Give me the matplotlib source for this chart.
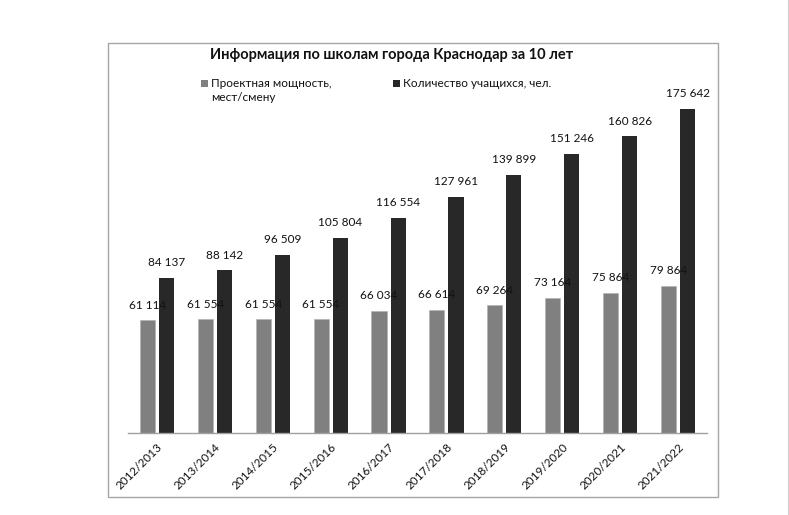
import matplotlib
matplotlib.use("Agg")
import matplotlib.pyplot as plt
from matplotlib.patches import Rectangle
from matplotlib.lines import Line2D
import numpy as np

plt.rcParams['font.family'] = ['Lato', 'DejaVu Sans']

title = "Информация по школам города Краснодар за 10 лет"
categories = ["2012/2013", "2013/2014", "2014/2015", "2015/2016", "2016/2017",
              "2017/2018", "2018/2019", "2019/2020", "2020/2021", "2021/2022"]
series_names = ["Проектная мощность,\nмест/смену", "Количество учащихся, чел."]
capacity = [61114, 61554, 61554, 61554, 66034, 66614, 69264, 73164, 75864, 79864]
students = [84137, 88142, 96509, 105804, 116554, 127961, 139899, 151246, 160826, 175642]
colors = ["#808080", "#282828"]

W, H = 789, 515
fig = plt.figure(figsize=(W / 100, H / 100), dpi=100)

# outer chart frame
fig.patches.append(Rectangle((108 / W, (H - 497) / H), 610 / W, 454 / H,
                             transform=fig.transFigure, fill=False,
                             edgecolor="#a6a6a6", linewidth=1.0))
# page edge line
fig.lines.append(Line2D([787.5 / W, 787.5 / W], [0, 1], transform=fig.transFigure,
                        color="#d0d0d0", linewidth=0.8))

ax = fig.add_axes([128 / W, (H - 433) / H, 579 / W, 373 / H])
x = np.arange(len(categories))
bw = 0.26
gap = 0.035
b1 = ax.bar(x - bw / 2 - gap, capacity, width=bw, color=colors[0],
            edgecolor="#b0b0b0", linewidth=0.4, zorder=2)
b2 = ax.bar(x + bw / 2 + gap, students, width=bw, color=colors[1], zorder=2)

ax.set_xlim(-0.5, len(categories) - 0.5)
ax.set_ylim(0, 175642 * 373 / 324)

def fmt(v):
    return f"{v:,}".replace(",", " ")

for rect, v in zip(b1, capacity):
    ax.annotate(fmt(v), (rect.get_x() + rect.get_width() / 2, v),
                xytext=(0, 7), textcoords="offset points", ha="center", va="bottom",
                fontsize=8.5, color="#111111", zorder=3)
for rect, v in zip(b2, students):
    ax.annotate(fmt(v), (rect.get_x() + rect.get_width() / 2, v),
                xytext=(0, 7), textcoords="offset points", ha="center", va="bottom",
                fontsize=8.5, color="#111111", zorder=3)

for s in ["top", "right", "left"]:
    ax.spines[s].set_visible(False)
ax.spines["bottom"].set_color("#a0a0a0")
ax.spines["bottom"].set_linewidth(1.0)
ax.set_yticks([])
ax.set_xticks(x)
ax.set_xticklabels(categories, rotation=45, ha="right", rotation_mode="anchor",
                   fontsize=8.5, color="#111111")
ax.tick_params(axis="x", length=0, pad=6)

# title
fig.text(392 / W, 1 - 55 / H, title, ha="center", va="center",
         fontsize=10.5, fontweight="bold", color="#111111")

# legend
sq = 7
for i, (name, col, lx) in enumerate(zip(series_names, colors, [201, 393])):
    fig.patches.append(Rectangle((lx / W, (H - 87) / H), sq / W, sq / H,
                                 transform=fig.transFigure, facecolor=col,
                                 edgecolor="none"))
    fig.text((lx + 10) / W, 1 - 78 / H, name, ha="left", va="top",
             fontsize=8.5, color="#111111", linespacing=1.3)

fig.savefig("out.png", dpi=100, facecolor="white")
